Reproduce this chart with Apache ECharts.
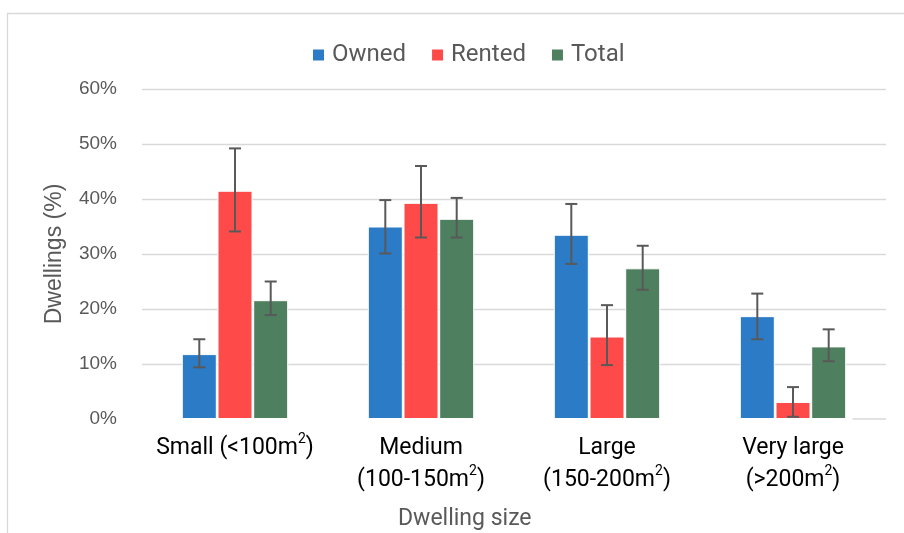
<!DOCTYPE html>
<html>
<head>
<meta charset="utf-8">
<script src="https://cdn.jsdelivr.net/npm/echarts@6/dist/echarts.min.js"></script>
<style>
  html, body { margin: 0; padding: 0; background: #fff; }
  #chart { width: 904px; height: 533px; }
</style>
</head>
<body>
<div id="chart"></div>
<script>
// Dwelling size categories (² rendered as a superscript)
const categories = ['Small (<100m²)', 'Medium\n(100-150m²)', 'Large\n(150-200m²)', 'Very large\n(>200m²)'];
const seriesNames = ['Owned', 'Rented', 'Total'];

// Share of dwellings (%) per size class
const owned  = [11.8, 35.0, 33.5, 18.7];
const rented = [41.5, 39.3, 15.0, 3.1];
const total  = [21.6, 36.4, 27.4, 13.2];

// Error bar bounds (%)
const ownedLow  = [9.4, 30.1, 28.2, 14.5];
const ownedHigh = [14.5, 39.8, 39.1, 22.8];
const rentedLow  = [34.1, 33.0, 9.8, 0.4];
const rentedHigh = [49.2, 46.0, 20.7, 5.8];
const totalLow  = [18.9, 33.0, 23.5, 10.5];
const totalHigh = [25.0, 40.2, 31.5, 16.3];

// Y axis ticks
const yTicks = [0, 10, 20, 30, 40, 50, 60];

const colors = ['#2B7BC7', '#FF4A4A', '#4E7F5E'];
const BAR_W = 35;
const BAR_GAP = 0.02;

const values = [owned, rented, total];
const lows = [ownedLow, rentedLow, totalLow];
const highs = [ownedHigh, rentedHigh, totalHigh];

const plex = "Roboto, 'Noto Sans', sans-serif";
const regular = "'Liberation Sans', Arial, sans-serif";

function errorSeries(k) {
  const stride = BAR_W * (1 + BAR_GAP);
  const offset = (k - 1) * stride;
  return {
    type: 'custom',
    name: seriesNames[k] + ' error',
    z: 10,
    silent: true,
    encode: { x: 0, y: [1, 2] },
    data: categories.map((c, i) => [i, lows[k][i], highs[k][i]]),
    renderItem: function (params, api) {
      const i = api.value(0);
      const top = api.coord([i, api.value(2)]);
      const bot = api.coord([i, api.value(1)]);
      const x = top[0] + offset;
      const cap = 6;
      const style = { stroke: '#595959', lineWidth: 2 };
      return {
        type: 'group',
        children: [
          { type: 'line', shape: { x1: x, y1: top[1], x2: x, y2: bot[1] }, style: style },
          { type: 'line', shape: { x1: x - cap, y1: top[1], x2: x + cap, y2: top[1] }, style: style },
          { type: 'line', shape: { x1: x - cap, y1: bot[1], x2: x + cap, y2: bot[1] }, style: style }
        ]
      };
    }
  };
}

function labelFormatter(v) {
  return v.split('\n').map(line => {
    const parts = line.split('²');
    return parts.map(p => p ? '{t|' + p + '}' : '').join('{sup|2}');
  }).join('\n');
}

const chart = echarts.init(document.getElementById('chart'), null, { renderer: 'canvas' });

const frame = {
  type: 'rect',
  shape: { x: 7.5, y: 13.5, width: 1000, height: 600 },
  style: { fill: 'none', stroke: '#D9D9D9', lineWidth: 1.3 },
  silent: true,
  z: -1
};
const xTitle = {
  type: 'text',
  left: 398,
  top: 508,
  style: { text: 'Dwelling size', fontFamily: plex, fontSize: 23, fill: '#595959' }
};

const option = {
  animation: false,
  backgroundColor: '#ffffff',
  color: colors,
  grid: { left: 142, right: 18, top: 89, bottom: 114 },
  legend: {
    data: seriesNames,
    left: 306,
    top: 38,
    itemWidth: 13,
    itemHeight: 13,
    itemGap: 24,
    icon: 'rect',
    textStyle: { fontFamily: plex, fontSize: 24, color: '#595959', padding: [0, 0, 0, 2] }
  },
  xAxis: {
    type: 'category',
    data: categories,
    axisLine: { show: false },
    axisTick: { show: false },
    axisLabel: {
      interval: 0,
      margin: 13,
      formatter: labelFormatter,
      rich: {
        t: { fontFamily: plex, fontSize: 23, color: '#000000', lineHeight: 32 },
        sup: { fontFamily: plex, fontSize: 14, color: '#000000', verticalAlign: 'top', lineHeight: 32, padding: [0, 0, 10, 0] }
      }
    }
  },
  yAxis: {
    type: 'value',
    min: 0,
    max: 60,
    interval: 10,
    name: 'Dwellings (%)',
    nameLocation: 'middle',
    nameGap: 76,
    nameTextStyle: { fontFamily: regular, fontSize: 23, color: '#595959' },
    axisLine: { show: false },
    axisTick: { show: false },
    axisLabel: {
      margin: 25,
      fontFamily: regular,
      fontSize: 19,
      color: '#595959',
      formatter: v => yTicks.includes(v) ? v + '%' : ''
    },
    splitLine: { showMinLine: false, lineStyle: { color: '#D9D9D9', width: 1.3 } }
  },
  graphic: [frame, xTitle],
  series: seriesNames.map((name, k) => ({
    type: 'bar',
    name: name,
    data: values[k],
    barWidth: BAR_W,
    barGap: (BAR_GAP * 100) + '%',
    itemStyle: { color: colors[k], borderColor: '#ffffff', borderWidth: 1 }
  })).concat(seriesNames.map((n, k) => errorSeries(k)))
};

chart.setOption(option);

// Short segment of the zero line to the right of the last group
const y0 = chart.convertToPixel({ yAxisIndex: 0 }, 0);
const lastX = chart.convertToPixel({ xAxisIndex: 0 }, categories.length - 1);
const gridRight = 904 - 18;
chart.setOption({
  graphic: [
    frame,
    xTitle,
    {
      type: 'line',
      shape: { x1: lastX + 1.5 * BAR_W * (1 + BAR_GAP) + 6, y1: y0, x2: gridRight, y2: y0 },
      style: { stroke: '#D9D9D9', lineWidth: 1.3 },
      silent: true
    }
  ]
});
</script>
</body>
</html>
